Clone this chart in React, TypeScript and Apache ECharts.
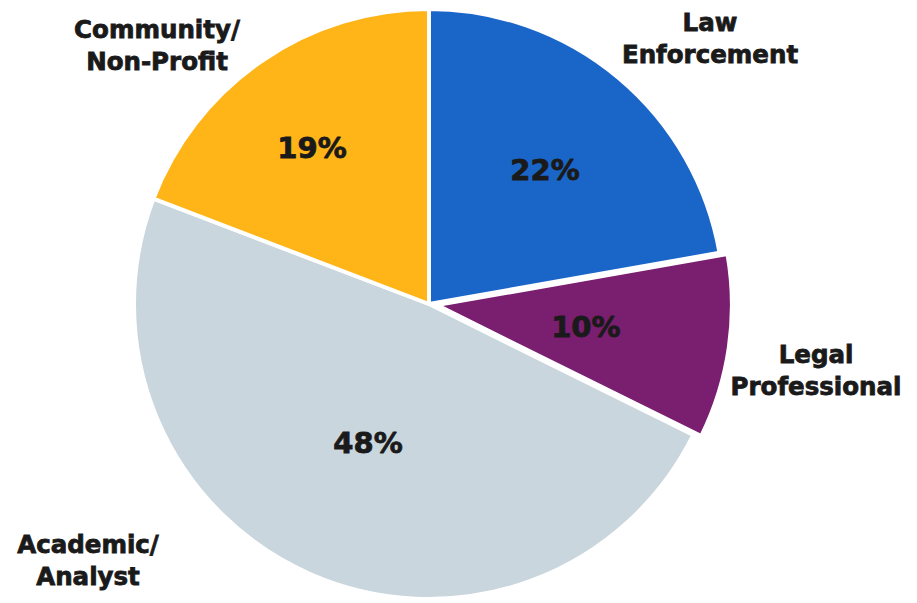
import React, { useEffect, useRef } from "react";
import * as echarts from "echarts";

const categories = ["Law\nEnforcement", "Legal\nProfessional", "Academic/\nAnalyst", "Community/\nNon-Profit"];
const values = [22, 10, 48, 19];
const colors = ["#1A66C8", "#7A1E70", "#C9D6DD", "#FFB418"];
const explodedIndex = 1;

// label anchor positions (text placement only)
const percentLabelPos: [number, number][] = [
  [545, 170],
  [645, 336],
  [368, 443],
  [312, 148],
];
const nameLabelPos: [number, number][] = [
  [710, 38],
  [816, 370],
  [88, 560],
  [157, 45],
];

const FONT = "'DejaVu Sans', sans-serif";
const INK = "#1a1a1a";

export default function App() {
  const ref = useRef<HTMLDivElement>(null);
  useEffect(() => {
    if (!ref.current) return;
    const chart = echarts.init(ref.current, undefined, { renderer: "svg" });
    const data = categories.map((name, i) => ({
      name,
      value: values[i],
      selected: i === explodedIndex,
      itemStyle: { color: colors[i] },
    }));
    chart.setOption({
      animation: false,
      backgroundColor: "#ffffff",
      series: [
        {
          type: "pie",
          center: [429, 304],
          radius: 295,
          startAngle: 90,
          clockwise: true,
          selectedMode: "single",
          selectedOffset: 8,
          avoidLabelOverlap: false,
          itemStyle: { borderColor: "#ffffff", borderWidth: 4 },
          emphasis: { disabled: true },
          label: {
            show: true,
            position: "inside",
            formatter: (p: any) => `${p.value}%`,
            color: INK,
            fontFamily: FONT,
            fontWeight: "bold",
            fontSize: 29,
            textBorderColor: INK,
            textBorderWidth: 0.8,
          },
          labelLine: { show: false },
          labelLayout: (p: any) => ({
            x: percentLabelPos[p.dataIndex][0],
            y: percentLabelPos[p.dataIndex][1],
            align: "center",
            verticalAlign: "middle",
          }),
          data,
        },
        {
          type: "pie",
          center: [429, 304],
          radius: 295,
          startAngle: 90,
          silent: true,
          avoidLabelOverlap: false,
          itemStyle: { color: "transparent", borderWidth: 0 },
          emphasis: { disabled: true },
          label: {
            show: true,
            position: "outside",
            formatter: (p: any) => p.name,
            color: INK,
            fontFamily: FONT,
            fontWeight: "bold",
            fontSize: 24.5,
            lineHeight: 32,
            align: "center",
            textBorderColor: INK,
            textBorderWidth: 0.8,
          },
          labelLine: { show: false },
          labelLayout: (p: any) => ({
            x: nameLabelPos[p.dataIndex][0],
            y: nameLabelPos[p.dataIndex][1],
            align: "center",
            verticalAlign: "middle",
          }),
          data: categories.map((name, i) => ({ name, value: values[i] })),
        },
      ],
    });
    return () => chart.dispose();
  }, []);
  return (
    <div
      ref={ref}
      style={{ position: "fixed", left: 0, top: 0, width: 917, height: 603 }}
    />
  );
}
